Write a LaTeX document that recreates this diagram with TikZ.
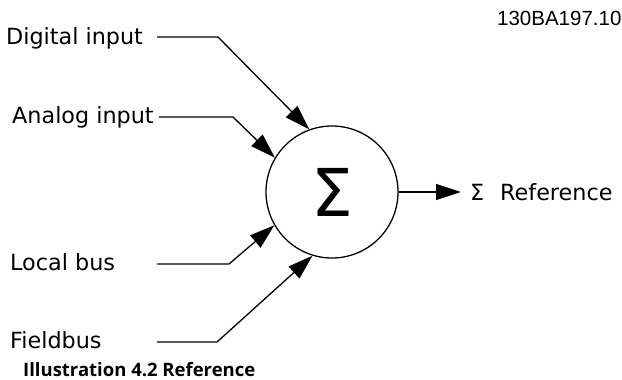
\documentclass[tikz,border=0pt]{standalone}
\usepackage{fontspec}
\setmainfont{DejaVu Sans}
\newfontfamily\capfont{Open Sans}
\newfontfamily\idfont{Liberation Sans}
\usetikzlibrary{arrows.meta}
\begin{document}
\begin{tikzpicture}[x=1pt,y=-1pt,
  lbl/.style={anchor=base west,inner sep=0pt,font=\fontsize{22.3}{26}\selectfont},
  conn/.style={line width=1.3pt,-{Triangle[length=25pt,width=16pt]}},
  sumnode/.style={circle,draw,line width=1.3pt,minimum size=132pt,inner sep=0pt,font=\fontsize{66}{70}\selectfont}]
\useasboundingbox (0,0) rectangle (622,380);
\node[sumnode] (sum) at (332,192) {Σ};
\node[lbl] (dig) at (6,44) {Digital input};
\node[lbl] (ana) at (12,123) {Analog input};
\node[lbl] (loc) at (10,270) {Local bus};
\node[lbl] (fld) at (10,348) {Fieldbus};
\node[lbl] (outs) at (470,200) {Σ};
\node[lbl] (outr) at (500,200) {Reference};
\node[anchor=base west,inner sep=0pt,font=\capfont\bfseries\fontsize{18.5}{22}\selectfont] (cap) at (23,376) {Illustration 4.2 Reference};
\node[anchor=base west,inner sep=0pt,font=\idfont\fontsize{20.5}{24}\selectfont] (id) at (497,26) {130BA197.10};
\coordinate (d0) at (157,37); \coordinate (d1) at (218,37);
\coordinate (a0) at (159,117); \coordinate (a1) at (233,117);
\coordinate (l0) at (157,264); \coordinate (l1) at (229,264);
\coordinate (f0) at (157,342); \coordinate (f1) at (217,342);
\coordinate (o1) at (461,192);
\draw[conn] (d0) -- (d1) -- (sum.110.7);
\draw[conn] (a0) -- (a1) -- (sum.149.6);
\draw[conn] (l0) -- (l1) -- (sum.210.7);
\draw[conn] (f0) -- (f1) -- (sum.253.3);
\draw[conn] (sum.east) -- (o1);
\end{tikzpicture}
\end{document}
